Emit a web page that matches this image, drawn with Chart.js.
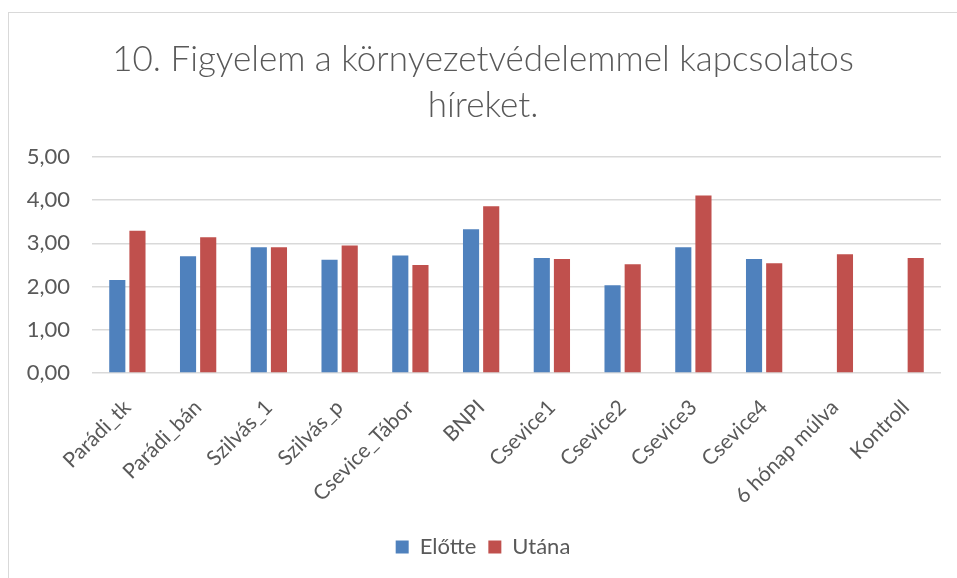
<!DOCTYPE html>
<html lang="hu">
<head>
    <meta charset="UTF-8">
    <title>10. Figyelem a környezetvédelemmel kapcsolatos híreket.</title>
    <script src="https://cdn.jsdelivr.net/npm/chart.js"></script>
    <style>
        body {
            margin: 0;
            padding: 0;
            background-color: #ffffff;
            width: 957px;
            height: 578px;
            overflow: hidden;
            position: relative;
        }
        .frame {
            position: absolute;
            left: 8px;
            top: 12px;
            width: 1000px;
            height: 700px;
            border: 1px solid #d9d9d9;
        }
        .chart-container {
            position: absolute;
            left: 0;
            top: 0;
            width: 957px;
            height: 578px;
        }
    </style>
</head>
<body>
    <div class="frame"></div>
    <div class="chart-container">
        <canvas id="chart"></canvas>
    </div>
    <script>
        const categories = ['Parádi_tk', 'Parádi_bán', 'Szilvás_1', 'Szilvás_p', 'Csevice_Tábor', 'BNPI',
            'Csevice1', 'Csevice2', 'Csevice3', 'Csevice4', '6 hónap múlva', 'Kontroll'];
        const elotte = [2.15, 2.70, 2.91, 2.62, 2.72, 3.33, 2.66, 2.03, 2.91, 2.64, null, null];
        const utana = [3.29, 3.14, 2.91, 2.95, 2.50, 3.86, 2.64, 2.52, 4.11, 2.54, 2.75, 2.66];
        const titleLines = ['10. Figyelem a környezetvédelemmel kapcsolatos', 'híreket.'];

        const textColor = '#595959';
        const fontFamily = "Lato, 'Open Sans', sans-serif";

        new Chart(document.getElementById('chart').getContext('2d'), {
            type: 'bar',
            data: {
                labels: categories,
                datasets: [{
                    label: 'Előtte',
                    data: elotte,
                    backgroundColor: '#4f81bd',
                    categoryPercentage: 0.57,
                    barPercentage: 0.8
                }, {
                    label: 'Utána',
                    data: utana,
                    backgroundColor: '#c0504d',
                    categoryPercentage: 0.57,
                    barPercentage: 0.8
                }]
            },
            options: {
                responsive: true,
                maintainAspectRatio: false,
                animation: false,
                layout: {
                    // left padding pushes title and legend a little right, as in the original frame
                    padding: { top: 0, left: 25, right: 16, bottom: 10 }
                },
                plugins: {
                    title: {
                        display: true,
                        text: titleLines,
                        color: textColor,
                        font: { family: fontFamily, size: 35, weight: '300', lineHeight: 1.3 },
                        padding: { top: 37, bottom: 29 }
                    },
                    legend: {
                        position: 'bottom',
                        labels: {
                            color: textColor,
                            font: { family: fontFamily, size: 22 },
                            boxWidth: 13,
                            boxHeight: 13,
                            padding: 12
                        }
                    },
                    tooltip: { enabled: false }
                },
                scales: {
                    x: {
                        grid: { display: false },
                        border: { display: false },
                        ticks: {
                            color: textColor,
                            font: { family: fontFamily, size: 21 },
                            padding: 14,
                            minRotation: 45,
                            maxRotation: 45,
                            autoSkip: false
                        },
                        afterFit: function (scale) { scale.height = 151; }
                    },
                    y: {
                        min: 0,
                        max: 5,
                        ticks: {
                            stepSize: 1,
                            padding: 22,
                            color: textColor,
                            font: { family: fontFamily, size: 22 },
                            callback: function (v) { return v.toFixed(2).replace('.', ','); }
                        },
                        grid: { color: '#d9d9d9', lineWidth: 1.5, drawTicks: false },
                        border: { display: false },
                        afterFit: function (scale) { scale.width = 67; }
                    }
                }
            }
        });
    </script>
</body>
</html>
